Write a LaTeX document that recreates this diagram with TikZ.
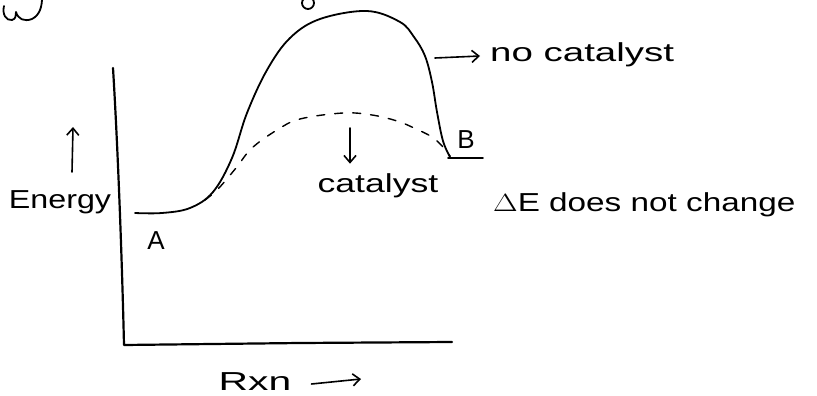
\documentclass[tikz,border=0pt]{standalone}
\usepackage{fontspec}
\setmainfont{Liberation Sans}
\usetikzlibrary{arrows.meta}
\tikzset{
  ink/.style={line width=1.8pt, line cap=round, line join=round},
  axis/.style={line width=2.2pt, line cap=round, line join=round},
  dashink/.style={line width=1.4pt, line cap=round, dash pattern=on 8pt off 10pt},
  hand/.style={font=\fontsize{26}{28}\selectfont, inner sep=0pt},
  harrow/.style={line width=1.6pt, line cap=round, -{Straight Barb[length=7pt,width=12pt,line width=1.6pt]}}
}
\begin{document}
\begin{tikzpicture}[x=1pt,y=-1pt]
\useasboundingbox (0,0) rectangle (817,396);
\clip (0,0) rectangle (817,396);
% cut-off fragments at the top
\draw[ink] (4,6) .. controls (2,14) and (6,21) .. (12,20) .. controls (16,19) and (16,15) .. (16,12)
  .. controls (18,19) and (24,22) .. (32,19) .. controls (40,15) and (42,6) .. (42,-2);
\draw[ink] (308,3) ellipse [x radius=6, y radius=6];
% axes
\draw[axis] (113,68) .. controls (118,150) and (122,260) .. (124,345) -- (300,343) -- (452,342);
% solid curve (no catalyst)
\draw[ink] plot[smooth, tension=0.6] coordinates {(135,213) (162,213) (190,208) (213,192) (232,158)
  (247,113) (267,70) (290,38) (320,19) (367,11) (400,22) (414,37) (425,56) (432,82) (437,112) (443,141) (450,157)};
\draw[ink] (448,158) -- (483,158);
% dashed curve (catalyst)
\draw[dashink] plot[smooth, tension=0.6] coordinates {(205,200) (218,189) (236,168) (252,148) (277,130)
  (300,119) (343,113) (372,115) (397,121) (414,128) (432,137) (443,147) (450,156)};
% labels
\node[hand] (energy) at (60,202) {\scalebox{1.24}[1]{Energy}};
\coordinate (eup0) at (72,172);
\coordinate (eup1) at (73,127);
\draw[harrow] (eup0) -- (eup1);
\node[hand] (A) at (156,241) {A};
\node[hand] (B) at (466,140) {B};
\node[hand, anchor=west] (nocat) at (490,55) {\scalebox{1.48}[1]{no catalyst}};
\coordinate (nc0) at (435,58);
\draw[harrow] (nc0) -- ([xshift=-10pt,yshift=-1pt]nocat.west);
\node[hand] (cat) at (378,186) {\scalebox{1.37}[1]{catalyst}};
\coordinate (cd0) at (350,128);
\draw[harrow] (cd0) -- ([xshift=-28pt,yshift=10pt]cat.north);
\node[hand, anchor=west] (dE) at (493,205) {\scalebox{1.28}[1]{$\Delta$E does not change}};
\node[hand] (rxn) at (255,382) {\scalebox{1.57}[1]{Rxn}};
\coordinate (rx1) at (361,379);
\draw[harrow] ([xshift=20pt,yshift=-2pt]rxn.east) -- (rx1);
\end{tikzpicture}
\end{document}
